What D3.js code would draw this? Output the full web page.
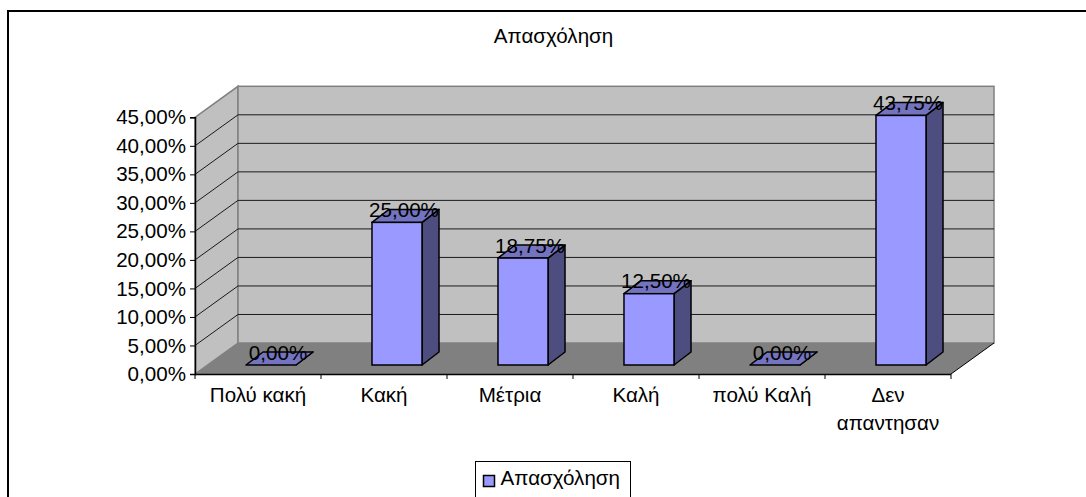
<!DOCTYPE html>
<html>
<head>
<meta charset="utf-8">
<script src="https://cdn.jsdelivr.net/npm/d3@7/dist/d3.min.js"></script>
<style>
html, body { margin: 0; padding: 0; background: #fff; overflow: hidden; }
text { font-family: "Liberation Sans", Arial, sans-serif; fill: #000; }
</style>
</head>
<body>
<div id="chart"></div>
<script>
var chartTitle = "Απασχόληση";
var seriesName = "Απασχόληση";
var categories = ["Πολύ κακή", "Κακή", "Μέτρια", "Καλή", "πολύ Καλή", "Δεν απαντησαν"];
var values = [0, 25, 18.75, 12.5, 0, 43.75];
var yTicks = [0, 5, 10, 15, 20, 25, 30, 35, 40, 45];

var w = 1086;
var h = 497;
var fontSize = 20.6;

// front plane of the 3d box, and how far the back wall is pushed away
var plotLeft = 195;
var plotRight = 951;
var plotTop = 117.3;
var plotBottom = 374;
var wallDx = 43;
var wallDy = 31;

// bars sit halfway into the box
var barDx = 17;
var barDy = 13;
var barShiftX = (wallDx - barDx) / 2;
var barShiftY = (wallDy - barDy) / 2;

var svg = d3.select("#chart")
	.append("svg")
	.attr("width", w)
	.attr("height", h)
	.style("display", "block");

var x = d3.scaleBand()
	.domain(categories)
	.range([plotLeft, plotRight])
	.paddingInner(0.603)
	.paddingOuter(0.3015);

var y = d3.scaleLinear()
	.domain([0, 45])
	.range([plotBottom, plotTop]);

function comma(v) {
	return v.toFixed(2).replace(".", ",") + "%";
}

function poly(points) {
	return points.map(function(p) { return p.join(","); }).join(" ");
}

function drawFrame() {
	svg.append("path")
		.attr("d", "M8,497V11H1086")
		.attr("fill", "none")
		.attr("stroke", "#000")
		.attr("stroke-width", 2);

	svg.append("text")
		.text(chartTitle)
		.attr("x", 553.5)
		.attr("y", 43)
		.attr("text-anchor", "middle")
		.attr("font-size", fontSize);
}

function drawWalls() {
	// floor
	svg.append("polygon")
		.attr("points", poly([[plotLeft, plotBottom], [plotRight, plotBottom], [plotRight + wallDx, plotBottom - wallDy], [plotLeft + wallDx, plotBottom - wallDy]]))
		.attr("fill", "#808080");

	// side wall
	svg.append("polygon")
		.attr("points", poly([[plotLeft, plotBottom], [plotLeft, plotTop], [plotLeft + wallDx, plotTop - wallDy], [plotLeft + wallDx, plotBottom - wallDy]]))
		.attr("fill", "#c0c0c0")
		.attr("stroke", "#808080")
		.attr("stroke-width", 1.5);

	// back wall
	svg.append("rect")
		.attr("x", plotLeft + wallDx)
		.attr("y", plotTop - wallDy)
		.attr("width", plotRight - plotLeft)
		.attr("height", plotBottom - plotTop)
		.attr("fill", "#c0c0c0")
		.attr("stroke", "#808080")
		.attr("stroke-width", 1.5);

	// gridlines go along the side wall then across the back
	var grid = yTicks.filter(function(t) { return t > 0 && t < 45; });
	svg.selectAll(".grid")
		.data(grid)
		.enter()
		.append("polyline")
		.attr("class", "grid")
		.attr("points", function(d) {
			return poly([[plotLeft, y(d)], [plotLeft + wallDx, y(d) - wallDy], [plotRight + wallDx, y(d) - wallDy]]);
		})
		.attr("fill", "none")
		.attr("stroke", "#1a1a1a")
		.attr("stroke-width", 1);

	// little edge on the right of the floor
	svg.append("line")
		.attr("x1", plotRight)
		.attr("y1", plotBottom)
		.attr("x2", plotRight + wallDx)
		.attr("y2", plotBottom - wallDy)
		.attr("stroke", "#000")
		.attr("stroke-width", 1);
}

function drawAxes() {
	var yAxis = d3.axisLeft(y)
		.tickValues(yTicks)
		.tickFormat(comma)
		.tickSize(5)
		.tickPadding(4);

	var gy = svg.append("g")
		.attr("transform", "translate(" + plotLeft + ",0)")
		.call(yAxis);
	gy.select(".domain").attr("stroke", "#000").attr("stroke-width", 1.5);
	gy.selectAll("line").attr("stroke", "#000");
	gy.selectAll("text")
		.attr("font-size", fontSize)
		.attr("font-family", "Liberation Sans");

	var xAxis = d3.axisBottom(x)
		.tickSize(0)
		.tickPadding(0);

	var gx = svg.append("g")
		.attr("transform", "translate(0," + plotBottom + ")")
		.call(xAxis);
	gx.select(".domain").attr("d", "M" + plotLeft + ",0.5H" + plotRight).attr("stroke", "#000").attr("stroke-width", 1.5);
	gx.selectAll("text").remove();

	// ticks at the edges of each category band
	var edges = d3.range(categories.length + 1);
	gx.selectAll(".edge")
		.data(edges)
		.enter()
		.append("line")
		.attr("class", "edge")
		.attr("x1", function(d) { return plotLeft + d * x.step(); })
		.attr("x2", function(d) { return plotLeft + d * x.step(); })
		.attr("y1", 0)
		.attr("y2", 5)
		.attr("stroke", "#000");

	// category labels, long ones wrap onto two lines
	gx.selectAll(".cat")
		.data(categories)
		.enter()
		.append("text")
		.attr("class", "cat")
		.attr("text-anchor", "middle")
		.attr("font-size", fontSize)
		.attr("font-family", "Liberation Sans")
		.each(function(d) {
			var lines = d === "Δεν απαντησαν" ? d.split(" ") : [d];
			var cx = x(d) + x.bandwidth() / 2;
			d3.select(this).selectAll("tspan")
				.data(lines)
				.enter()
				.append("tspan")
				.attr("x", cx)
				.attr("y", function(l, i) { return 27.5 + i * 28; })
				.text(function(l) { return l; });
		});
}

function drawBars() {
	var bars = svg.selectAll(".bar")
		.data(values)
		.enter()
		.append("g")
		.attr("class", "bar")
		.attr("transform", "translate(" + barShiftX + "," + (-barShiftY) + ")");

	var x0 = function(d, i) { return x(categories[i]); };
	var x1 = function(d, i) { return x(categories[i]) + x.bandwidth(); };

	// side
	bars.append("polygon")
		.attr("points", function(d, i) {
			return poly([[x1(d, i), y(0)], [x1(d, i), y(d)], [x1(d, i) + barDx, y(d) - barDy], [x1(d, i) + barDx, y(0) - barDy]]);
		})
		.attr("fill", "#4d4d80")
		.attr("stroke", "#000")
		.attr("stroke-width", 1.5)
		.attr("stroke-linejoin", "round");

	// top
	bars.append("polygon")
		.attr("points", function(d, i) {
			return poly([[x0(d, i), y(d)], [x1(d, i), y(d)], [x1(d, i) + barDx, y(d) - barDy], [x0(d, i) + barDx, y(d) - barDy]]);
		})
		.attr("fill", "#7373bf")
		.attr("stroke", "#000")
		.attr("stroke-width", 1.5)
		.attr("stroke-linejoin", "round");

	// front
	bars.append("rect")
		.attr("x", function(d, i) { return x0(d, i); })
		.attr("y", function(d) { return y(d); })
		.attr("width", x.bandwidth())
		.attr("height", function(d) { return y(0) - y(d); })
		.attr("fill", "#9999ff")
		.attr("stroke", "#000")
		.attr("stroke-width", 1.5);

	// value labels
	bars.append("text")
		.text(function(d) { return comma(d); })
		.attr("x", function(d, i) { return x0(d, i) + x.bandwidth() / 2 + 7; })
		.attr("y", function(d) { return y(d) - 5.5; })
		.attr("text-anchor", "middle")
		.attr("font-size", fontSize);
}

function drawLegend() {
	svg.append("rect")
		.attr("x", 475.5)
		.attr("y", 461.5)
		.attr("width", 155)
		.attr("height", 60)
		.attr("fill", "#fff")
		.attr("stroke", "#000")
		.attr("stroke-width", 1);

	svg.append("rect")
		.attr("x", 483.5)
		.attr("y", 475.5)
		.attr("width", 11)
		.attr("height", 11)
		.attr("fill", "#9999ff")
		.attr("stroke", "#000")
		.attr("stroke-width", 1.5);

	svg.append("text")
		.text(seriesName)
		.attr("x", 500.5)
		.attr("y", 484.5)
		.attr("font-size", fontSize);
}

drawFrame();
drawWalls();
drawAxes();
drawBars();
drawLegend();
</script>
</body>
</html>
